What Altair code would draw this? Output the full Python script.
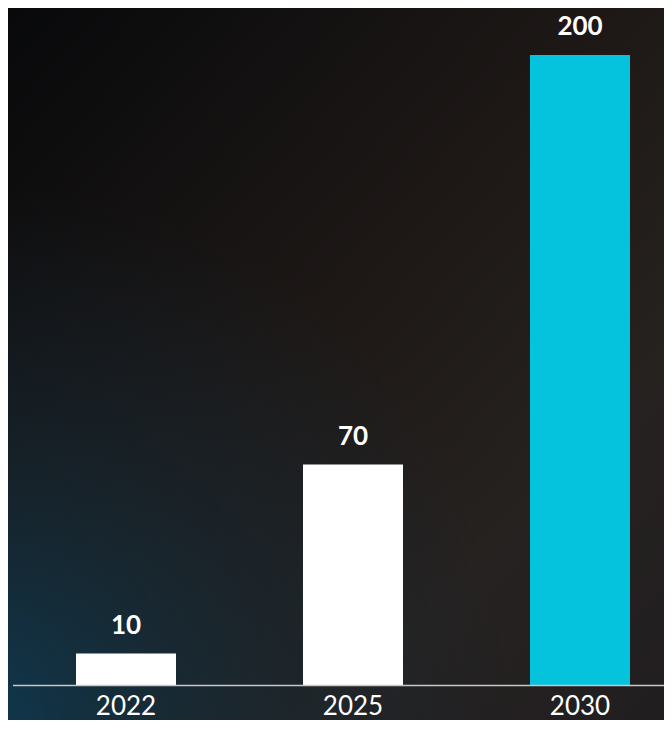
import altair as alt
import pandas as pd

# ---- data ----
years = ["2022", "2025", "2030"]
values = [10, 70, 200]
bar_colors = ["#ffffff", "#ffffff", "#05c3dd"]

df = pd.DataFrame({"year": years, "value": values, "fill": bar_colors})

W, H = 652, 630
PAD = {"left": 4, "top": 47, "right": 0, "bottom": 35}

x = alt.X(
    "year:N",
    sort=years,
    scale=alt.Scale(range=[0.5, 681.5], paddingInner=0.5595, paddingOuter=0.27975),
    axis=alt.Axis(
        title=None, labelAngle=0, ticks=False, grid=False, zindex=1,
        domainColor="#c8c8c8", domainWidth=1.5,
        labelColor="#ffffff", labelFont="Lato", labelFontSize=26,
        labelPadding=8,
    ),
)
y = alt.Y("value:Q", scale=alt.Scale(domain=[0, 200], nice=False, zero=True), axis=None)

one = alt.Data(values=[{"k": 1}])

bg_linear = alt.Chart(one).mark_rect(
    color=alt.LinearGradient(
        gradient="linear", x1=0, y1=0, x2=1, y2=1,
        stops=[
            alt.GradientStop(offset=0, color="#08090b"),
            alt.GradientStop(offset=0.45, color="#1d1816"),
            alt.GradientStop(offset=0.75, color="#262220"),
            alt.GradientStop(offset=1, color="#211e20"),
        ],
    )
).encode(
    x=alt.value(-PAD["left"]), x2=alt.value(W),
    y=alt.value(-PAD["top"]), y2=alt.value(H + PAD["bottom"]),
)

bg_radial = alt.Chart(one).mark_rect(
    color=alt.RadialGradient(
        gradient="radial", x1=0, y1=1, x2=0, y2=1, r1=0, r2=0.75,
        stops=[
            alt.GradientStop(offset=0, color="rgba(14,58,82,0.95)"),
            alt.GradientStop(offset=0.5, color="rgba(20,45,60,0.5)"),
            alt.GradientStop(offset=1, color="rgba(20,40,55,0)"),
        ],
    )
).encode(
    x=alt.value(-PAD["left"]), x2=alt.value(W),
    y=alt.value(-PAD["top"]), y2=alt.value(H + PAD["bottom"]),
)

base = alt.Chart(df)

bars = base.mark_bar().encode(
    x=x, y=y, color=alt.Color("fill:N", scale=None)
)

labels = base.mark_text(
    dy=-20, baseline="alphabetic", font="Lato", fontSize=26,
    fontWeight="bold", color="#ffffff",
).encode(x=x, y=y, text=alt.Text("value:Q"))

chart = (
    alt.layer(bg_linear, bg_radial, bars, labels)
    .properties(width=W, height=H, autosize=alt.AutoSizeParams(type="none"), padding=PAD)
    .configure_view(stroke=None)
    .configure(background="#141414")
)

chart.save("out.html", embed_options={"renderer": "svg", "actions": False})
